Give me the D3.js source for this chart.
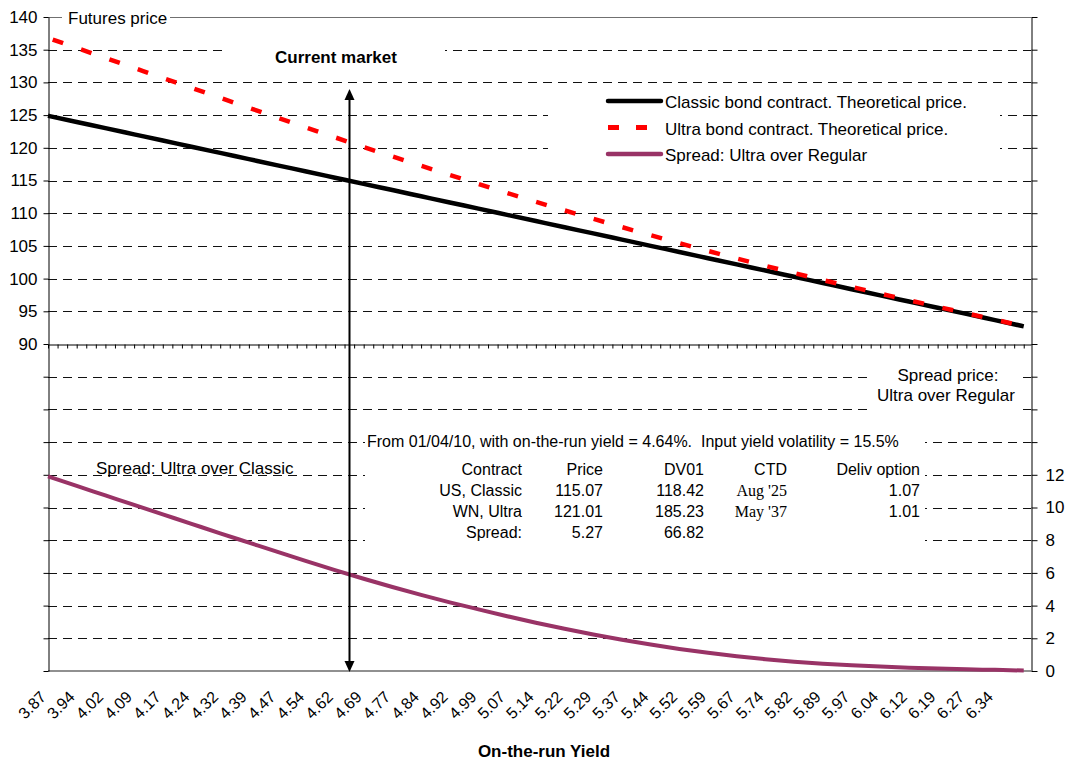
<!DOCTYPE html>
<html>
<head>
<meta charset="utf-8">
<script src="https://cdn.jsdelivr.net/npm/d3@7"></script>
<style>
body{margin:0;background:#fff;}
svg{display:block;font-family:"Liberation Sans",Arial,sans-serif;}
</style>
</head>
<body>
<div id="chart"></div>
<script>
// yields at every 3rd category (the labelled ones) plus the last point
const yields=[3.87,3.945,4.02,4.095,4.17,4.245,4.32,4.395,4.47,4.545,4.62,4.695,4.77,4.845,4.92,4.995,5.07,5.145,5.22,5.295,5.37,5.445,5.52,5.595,5.67,5.745,5.82,5.895,5.97,6.045,6.12,6.195,6.27,6.345,6.42];
const xLabels=['3.87','3.94','4.02','4.09','4.17','4.24','4.32','4.39','4.47','4.54','4.62','4.69','4.77','4.84','4.92','4.99','5.07','5.14','5.22','5.29','5.37','5.44','5.52','5.59','5.67','5.74','5.82','5.89','5.97','6.04','6.12','6.19','6.27','6.34'];
const classic=[124.90,123.95,123.01,122.06,121.11,120.17,119.22,118.27,117.32,116.38,115.43,114.48,113.54,112.59,111.64,110.70,109.75,108.80,107.85,106.91,105.96,105.01,104.07,103.12,102.17,101.23,100.28,99.33,98.38,97.44,96.49,95.54,94.60,93.65,92.70];
const ultra=[136.80,135.27,133.75,132.22,130.69,129.17,127.64,126.12,124.60,123.10,121.60,120.12,118.68,117.25,115.84,114.47,113.10,111.75,110.43,109.14,107.87,106.63,105.42,104.23,103.07,101.95,100.85,99.78,98.73,97.71,96.69,95.69,94.70,93.72,92.73];
const spread=[11.90,11.32,10.74,10.16,9.58,9.00,8.42,7.85,7.28,6.72,6.17,5.64,5.14,4.66,4.20,3.77,3.35,2.95,2.58,2.23,1.91,1.62,1.35,1.11,0.90,0.72,0.57,0.45,0.35,0.27,0.20,0.15,0.10,0.07,0.03];
const leftLabels=[90,95,100,105,110,115,120,125,130,135,140];
const rightLabels=[0,2,4,6,8,10,12];
const currentYield=4.657;
const legendItems=[
  {label:'Classic bond contract. Theoretical price.',color:'#000',dash:null},
  {label:'Ultra bond contract. Theoretical price.',color:'#ff0000',dash:'11,17'},
  {label:'Spread: Ultra over Regular',color:'#993366',dash:null}
];
const tableTitle='From 01/04/10, with on-the-run yield = 4.64%.  Input yield volatility = 15.5%';
const tableHead=['Contract','Price','DV01','CTD','Deliv option'];
const tableRows=[
  ['US, Classic','115.07','118.42',"Aug '25",'1.07'],
  ['WN, Ultra','121.01','185.23',"May '37",'1.01'],
  ['Spread:','5.27','66.82','','']
];

const W=1068,H=761,m={t:17,r:37,b:90,l:48};
const w=W-m.l-m.r,h=H-m.t-m.b;
const svg=d3.select('#chart').append('svg').attr('width',W).attr('height',H);
const g=svg.append('g').attr('transform',`translate(${m.l},${m.t})`);

const x=d3.scaleLinear().domain([3.87,6.439]).range([0,w]);
const yL=d3.scaleLinear().domain([40,140]).range([h,0]);
const yR=d3.scaleLinear().domain([0,40]).range([h,0]);

// dashed gridlines
const gridVals=d3.range(45,140,5).filter(v=>v!==90);
g.append('g').selectAll('line').data(gridVals).join('line')
  .attr('x1',0).attr('x2',w).attr('y1',d=>Math.round(yL(d))+.5).attr('y2',d=>Math.round(yL(d))+.5)
  .attr('stroke','#111').attr('stroke-width',1).attr('stroke-dasharray','9,6');

// top border and bottom line
g.append('line').attr('x1',0).attr('x2',w).attr('y1',.5).attr('y2',.5).attr('stroke','#707070').attr('stroke-width',1.2);
g.append('line').attr('x1',0).attr('x2',w).attr('y1',h).attr('y2',h).attr('stroke','#909090').attr('stroke-width',2);

// white text-box backgrounds hiding parts of the grid
const boxes=[[62,8,108,20],[225,34,220,42],[548,88,452,78],[365,430,560,125],[873,362,144,50]];
svg.append('g').selectAll('rect').data(boxes).join('rect')
  .attr('x',d=>d[0]).attr('y',d=>d[1]).attr('width',d=>d[2]).attr('height',d=>d[3]).attr('fill','#fff');

// horizontal axis line at 90 with category ticks
const catTicks=d3.range(0,103).map(i=>3.87+i*0.025);
g.append('g').attr('transform',`translate(0,${Math.round(yL(90))+.5})`)
  .call(d3.axisBottom(x).tickValues(catTicks).tickSize(4).tickSizeOuter(0).tickFormat(''))
  .call(a=>a.selectAll('line,path').attr('stroke','#000'));

// left axis
g.append('g').attr('transform','translate(.5,0)')
  .call(d3.axisLeft(yL).tickValues(d3.range(40,141,5)).tickSize(5).tickSizeOuter(0).tickPadding(6)
    .tickFormat(v=>leftLabels.includes(v)?v:''))
  .call(a=>a.selectAll('line,path').attr('stroke','#000'))
  .call(a=>a.selectAll('text').attr('font-size',17).attr('fill','#000').attr('font-family','Liberation Sans'));

// right axis
g.append('g').attr('transform',`translate(${w+.5},0)`)
  .call(d3.axisRight(yR).tickValues(d3.range(0,41,2)).tickSize(6).tickSizeOuter(0).tickPadding(8)
    .tickFormat(v=>rightLabels.includes(v)?v:''))
  .call(a=>a.selectAll('line,path').attr('stroke','#000'))
  .call(a=>a.selectAll('text').attr('font-size',17).attr('fill','#000').attr('font-family','Liberation Sans'));

// x tick labels, rotated
g.append('g').selectAll('text').data(xLabels).join('text')
  .attr('transform',(d,i)=>`translate(${x(yields[i])-1},${h+27}) rotate(-45)`)
  .attr('text-anchor','end').attr('font-size',16).attr('fill','#000').text(d=>d);

// series
const pts=yields.map((v,i)=>({y:v,c:classic[i],u:ultra[i],s:spread[i]}));
g.append('path').datum(pts).attr('fill','none').attr('stroke','#993366').attr('stroke-width',4)
  .attr('d',d3.line().x(d=>x(d.y)).y(d=>yR(d.s)).curve(d3.curveMonotoneX));
g.append('path').datum(pts).attr('fill','none').attr('stroke','#000').attr('stroke-width',4.5)
  .attr('d',d3.line().x(d=>x(d.y)).y(d=>yL(d.c)).curve(d3.curveMonotoneX));
g.append('path').datum(pts).attr('fill','none').attr('stroke','#ff0000').attr('stroke-width',4.5)
  .attr('stroke-dasharray','11,19').attr('stroke-dashoffset',-5)
  .attr('d',d3.line().x(d=>x(d.y)).y(d=>yL(d.u)).curve(d3.curveMonotoneX));

// current market arrow
const ax=Math.round(x(currentYield))+.5, aTop=yL(129);
g.append('line').attr('x1',ax).attr('x2',ax).attr('y1',aTop+8).attr('y2',h-8).attr('stroke','#000').attr('stroke-width',2);
g.append('path').attr('d',`M${ax},${aTop}l-5,11h10z`).attr('fill','#000');
g.append('path').attr('d',`M${ax},${h+1}l-5,-11h10z`).attr('fill','#000');

// texts
const txt=svg.append('g').attr('font-size',17).attr('fill','#000');
txt.append('text').attr('x',68).attr('y',24).text('Futures price');
txt.append('text').attr('x',275).attr('y',63).attr('font-weight','bold').text('Current market');
txt.append('text').attr('x',96).attr('y',474).text('Spread: Ultra over Classic');
txt.append('text').attr('x',948).attr('y',381).attr('text-anchor','middle').text('Spread price:');
txt.append('text').attr('x',946).attr('y',401).attr('text-anchor','middle').text('Ultra over Regular');
txt.append('text').attr('x',544).attr('y',757).attr('font-weight','bold').attr('text-anchor','middle').text('On-the-run Yield');

// legend
const leg=svg.append('g').attr('transform','translate(608,101)');
legendItems.forEach((it,i)=>{
  const gy=i*26.5;
  leg.append('line').attr('x1',0).attr('x2',it.dash?40:53).attr('y1',gy).attr('y2',gy)
    .attr('stroke',it.color).attr('stroke-width',it.dash?5:4.5).attr('stroke-dasharray',it.dash||null)
    .attr('stroke-linecap',it.dash?'butt':'round');
  leg.append('text').attr('x',57).attr('y',gy+7).attr('font-size',17).text(it.label);
});

// info table
svg.append('text').attr('x',367).attr('y',447).attr('font-size',16).style('white-space','pre').text(tableTitle);
const colX=[522,603,704,787,920];
const rowY=[475,496,517,538];
[tableHead,...tableRows].forEach((row,r)=>{
  row.forEach((cell,c)=>{
    svg.append('text').attr('x',colX[c]).attr('y',rowY[r]).attr('text-anchor','end')
      .attr('font-size',16).attr('font-family',(c===3&&r>0)?'Liberation Serif':null).text(cell);
  });
});
</script>
</body>
</html>
